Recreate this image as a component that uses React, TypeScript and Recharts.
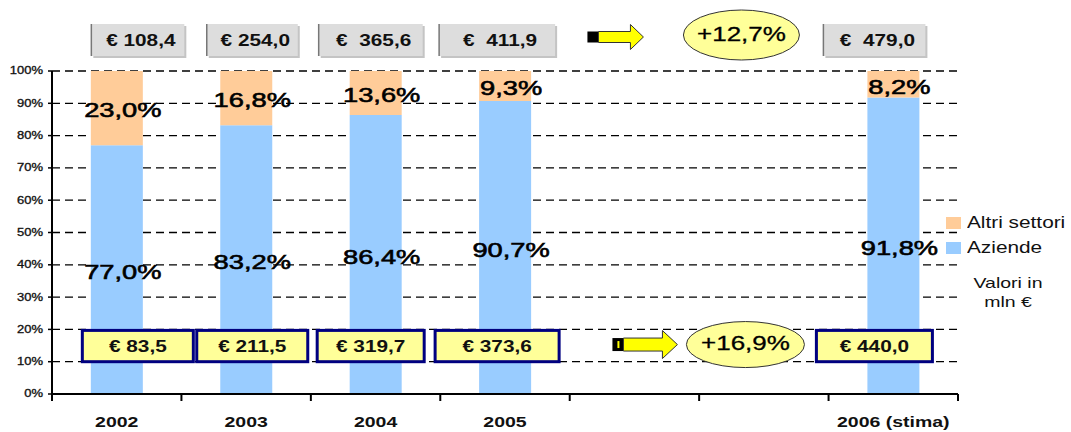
import React from "react";
import { BarChart, Bar, XAxis, YAxis, CartesianGrid, LabelList, ReferenceLine } from "recharts";

// categories (two empty slots between 2005 and 2006, as in the original slide)
const categoryKeys = ["2002", "2003", "2004", "2005", "gap1", "gap2", "2006"];
const tickLabels = ["2002", "2003", "2004", "2005", "", "", "2006 (stima)"];
const yTicks = [0, 10, 20, 30, 40, 50, 60, 70, 80, 90, 100];

// shares (%)
const aziende = [77.0, 83.2, 86.4, 90.7, null, null, 91.8];
const altriSettori = [23.0, 16.8, 13.6, 9.3, null, null, 8.2];

// values in mln €
const totaleMln = ["€ 108,4", "€ 254,0", "€  365,6", "€  411,9", null, null, "€  479,0"];
const aziendeMln = ["€ 83,5", "€ 211,5", "€ 319,7", "€ 373,6", null, null, "€ 440,0"];
const crescitaTotale = "+12,7%";
const crescitaAziende = "+16,9%";

// hand placement of the text boxes (layout only)
const boxShift = [21, 6, -5, -8, 0, 0, -19];
const topBoxWidth = [93, 91, 104, 116, 0, 0, 102];
const bottomBoxWidth = [111, 111, 107, 124, 0, 0, 116];

const BLUE = "#99CCFF";
const PEACH = "#FFCC99";
const FONT = "'Liberation Sans', Arial, sans-serif";
const SX = 1.3; // the slide is stretched horizontally

const data = categoryKeys.map((k, i) => ({
  key: k,
  i,
  aziende: aziende[i],
  altri: altriSettori[i],
}));

const fmtPct = (v: number) => v.toFixed(1).replace(".", ",") + "%";

function Stretched({ x, y, size, weight = "normal", anchor = "middle", fill = "#000", thick = 0, children }: any) {
  return (
    <text
      transform={`translate(${x},${y}) scale(${SX},1)`}
      textAnchor={anchor}
      dominantBaseline="central"
      fontSize={size}
      fontWeight={weight}
      fontFamily={FONT}
      fill={fill}
      stroke={thick ? fill : "none"}
      strokeWidth={thick}
      style={{ whiteSpace: "pre" }}
    >
      {children}
    </text>
  );
}

const PctLabel = (props: any) => {
  const vb = props.viewBox ?? props;
  const { x, y, width, height } = vb;
  if (props.value == null || !(width > 0)) return null;
  return (
    <Stretched x={x + width / 2 + 6} y={y + height / 2 + 2} size={21} thick={0.6}>
      {fmtPct(Number(props.value))}
    </Stretched>
  );
};

const ValueBoxes = (props: any) => {
  const i = Number(props.value);
  const vb = props.viewBox ?? props;
  const { x, y, width, height } = vb;
  const v = aziende[i];
  if (v == null || !(height > 0)) return null;
  const unit = height / v;
  const bottom = y + height;
  const top = bottom - 100 * unit;
  const y20 = bottom - 20 * unit;
  const y10 = bottom - 10 * unit;
  const cx = x + width / 2 + boxShift[i];
  const tw = topBoxWidth[i];
  const bw = bottomBoxWidth[i];
  return (
    <g>
      <rect x={cx - tw / 2 + 2} y={top - 45} width={tw} height={32} fill="#C4C4C4" />
      <rect x={cx - tw / 2} y={top - 47} width={tw} height={32} fill="#DDDDDD" />
      <line x1={cx - tw / 2} x2={cx - tw / 2} y1={top - 47} y2={top - 15} stroke="#777" strokeWidth={1.5} />
      <Stretched x={cx + 3} y={top - 31} size={16} weight="bold" fill="#111">
        {totaleMln[i]}
      </Stretched>
      <rect
        x={cx - bw / 2}
        y={y20 + 1}
        width={bw}
        height={y10 - y20 - 1}
        fill="#FFFF99"
        stroke="#000080"
        strokeWidth={3}
      />
      <Stretched x={cx} y={(y20 + y10) / 2 + 1} size={16} weight="bold" fill="#111">
        {aziendeMln[i]}
      </Stretched>
    </g>
  );
};

const Arrow = ({ x0, yc, shaft, bodyH, headH, headL, inner }: any) => (
  <g>
    <rect x={x0} y={yc - bodyH / 2} width={11} height={bodyH} fill="#000" />
    {inner && <rect x={x0 + 5} y={yc - bodyH / 2 + 3} width={2} height={bodyH - 6} fill="#FFFF00" />}
    <path
      d={`M${x0 + 11},${yc - bodyH / 2} H${x0 + 11 + shaft} V${yc - headH / 2} L${x0 + 11 + shaft + headL},${yc} L${
        x0 + 11 + shaft
      },${yc + headH / 2} V${yc + bodyH / 2} H${x0 + 11} Z`}
      fill="#FFFF00"
      stroke="#333"
      strokeWidth={1}
    />
  </g>
);

const GrowthMarks = (props: any) => {
  const { x, y, height } = props.viewBox;
  const cx = x;
  const top = y;
  const y15 = y + height * 0.85;
  return (
    <g>
      <Arrow x0={cx - 47} yc={top - 34} shaft={32} bodyH={11} headH={25} headL={13} />
      <ellipse cx={cx + 107} cy={top - 36} rx={58} ry={25} fill="#FFFF99" stroke="#333" strokeWidth={1} />
      <Stretched x={cx + 107} y={top - 37} size={20} thick={0.3}>
        {crescitaTotale}
      </Stretched>
      <Arrow x0={cx - 22} yc={y15 - 1} shaft={39} bodyH={13} headH={28} headL={15} inner />
      <ellipse cx={cx + 111} cy={y15 - 1} rx={59} ry={23} fill="#FFFF99" stroke="#333" strokeWidth={1} />
      <Stretched x={cx + 111} y={y15 - 2} size={20} thick={0.3}>
        {crescitaAziende}
      </Stretched>
    </g>
  );
};

const YTick = (props: any) => {
  const { x, y, payload } = props;
  return (
    <Stretched x={x - 3} y={y} size={10} anchor="end" fill="#111" thick={0.3}>
      {payload.value + "%"}
    </Stretched>
  );
};

const XTick = (props: any) => {
  const { x, y, payload, index, visibleTicksCount, width } = props;
  const half = payload.offset ? payload.offset : width / visibleTicksCount / 2;
  const label = tickLabels[categoryKeys.indexOf(payload.value)];
  return (
    <g>
      <line x1={x - half} x2={x - half} y1={y} y2={y + 7} stroke="#000" strokeWidth={2} />
      {index === visibleTicksCount - 1 && (
        <line x1={x + half} x2={x + half} y1={y} y2={y + 7} stroke="#000" strokeWidth={2} />
      )}
      {label && (
        <Stretched x={x} y={y + 28} size={15} weight="bold" fill="#111">
          {label}
        </Stretched>
      )}
    </g>
  );
};

const legendItems = [
  { name: "Altri settori", color: PEACH },
  { name: "Aziende", color: BLUE },
];

export default function App() {
  return (
    <div style={{ position: "absolute", left: 0, top: 0, width: 1071, height: 432, background: "#fff" }}>
      <BarChart
        width={1071}
        height={432}
        data={data}
        margin={{ top: 71, right: 113, left: 0, bottom: 0 }}
        barCategoryGap="30%"
      >
        <CartesianGrid vertical={false} stroke="#000" strokeDasharray="8 5" strokeWidth={1.3} />
        <XAxis
          dataKey="key"
          height={38}
          tickLine={false}
          tickSize={0}
          tickMargin={0}
          interval={0}
          axisLine={{ stroke: "#000", strokeWidth: 2 }}
          tick={<XTick />}
        />
        <YAxis
          width={52}
          domain={[0, 100]}
          ticks={yTicks}
          interval={0}
          tickSize={4}
          axisLine={{ stroke: "#000", strokeWidth: 2 }}
          tickLine={{ stroke: "#000", strokeWidth: 1.5 }}
          tick={<YTick />}
        />
        <Bar dataKey="aziende" name="Aziende" stackId="a" fill={BLUE} isAnimationActive={false}>
          <LabelList dataKey="aziende" content={PctLabel} />
          <LabelList dataKey="i" content={ValueBoxes} />
        </Bar>
        <Bar dataKey="altri" name="Altri settori" stackId="a" fill={PEACH} isAnimationActive={false}>
          <LabelList dataKey="altri" content={PctLabel} />
        </Bar>
        <ReferenceLine x="gap1" stroke="none" label={<GrowthMarks />} />
      </BarChart>
      <div style={{ position: "absolute", left: 946, top: 210, fontFamily: FONT, fontSize: 16, color: "#111" }}>
        {legendItems.map((it) => (
          <div key={it.name} style={{ display: "flex", alignItems: "center", height: 25 }}>
            <span style={{ width: 15, height: 12, background: it.color, marginRight: 6 }} />
            <span style={{ display: "inline-block", transform: `scaleX(${SX})`, transformOrigin: "left center" }}>
              {it.name}
            </span>
          </div>
        ))}
      </div>
      <div
        style={{
          position: "absolute",
          left: 958,
          width: 100,
          top: 273,
          fontFamily: FONT,
          fontSize: 15,
          lineHeight: "19px",
          textAlign: "center",
          color: "#111",
          transform: `scaleX(${SX})`,
        }}
      >
        Valori in
        <br />
        mln €
      </div>
    </div>
  );
}
